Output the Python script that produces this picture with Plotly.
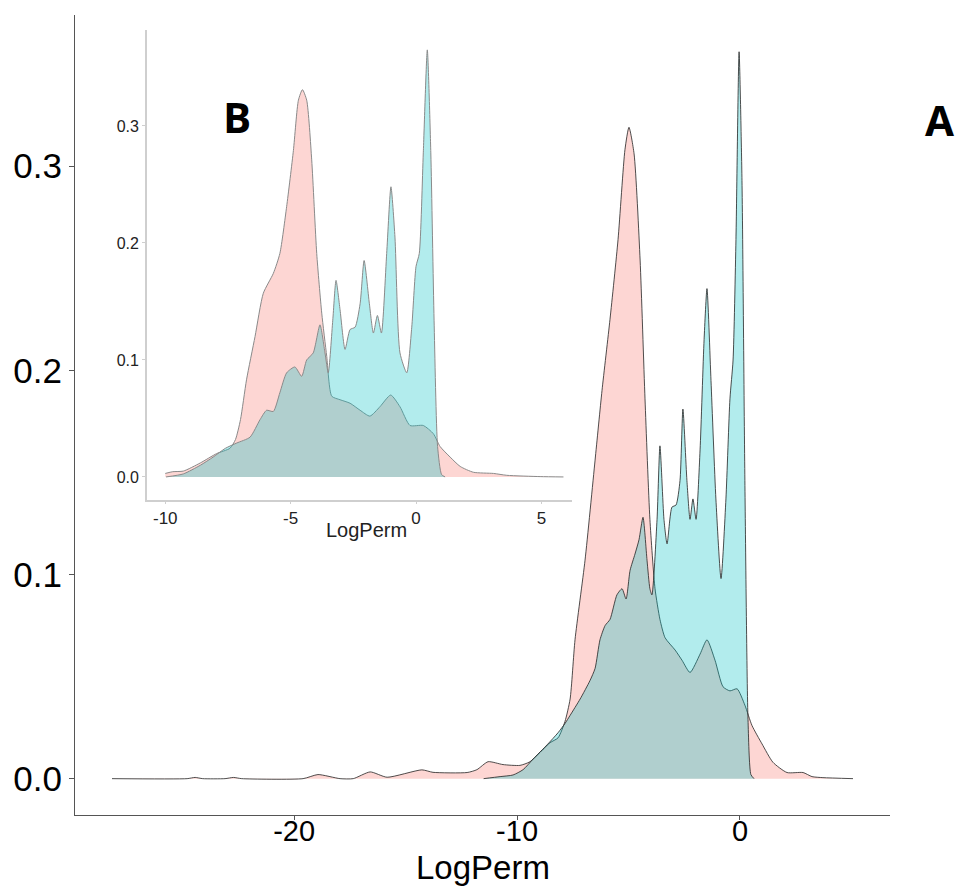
import plotly.graph_objects as go

# ---------------- Main panel (A) data ----------------
main_red_x = [-28.17, -24.8, -24.44, -24.1, -23.1, -22.72, -22.35, -19.6, -18.93, -17.94,
              -17.35, -16.59, -15.83, -14.27, -13.77, -12.24, -11.8, -11.3, -10.63, -9.87,
              -9.42, -8.52, -8.16, -7.85, -7.62, -7.4, -6.95, -6.5, -6.19, -5.83,
              -5.47, -5.16, -4.98, -4.75, -4.48, -4.26, -4.04, -3.81, -3.59, -3.36,
              -2.91, -2.6, -2.24, -1.79, -1.48, -1.12, -0.76, -0.45, -0.13, 0.22,
              0.54, 0.99, 1.48, 2.11, 2.83, 3.23, 3.72, 5.07]
main_red_y = [0, 0, 0.0006, 0, 0, 0.0006, 0, 0, 0.002, 0,
              0, 0.0033, 0.0007, 0.0043, 0.0031, 0.003, 0.0044, 0.0083, 0.0069, 0.0065,
              0.0083, 0.0176, 0.020, 0.028, 0.039, 0.068, 0.107, 0.156, 0.19, 0.225,
              0.264, 0.308, 0.319, 0.306, 0.254, 0.186, 0.127, 0.093, 0.078, 0.069,
              0.063, 0.058, 0.052, 0.061, 0.068, 0.058, 0.045, 0.043, 0.044, 0.036,
              0.026, 0.017, 0.008, 0.003, 0.003, 0.001, 0.0005, 0]

main_teal_x = [-11.5, -10.76, -10.18, -9.73, -9.28, -8.65, -8.16, -7.85, -7.62, -7.17,
               -6.73, -6.5, -6.28, -6.05, -5.83, -5.52, -5.29, -5.11, -4.93, -4.71,
               -4.53, -4.35, -4.17, -4.04, -3.95, -3.72, -3.59, -3.41, -3.27, -3.05,
               -2.87, -2.69, -2.56, -2.38, -2.24, -2.11, -1.97, -1.79, -1.61, -1.48,
               -1.3, -1.08, -0.85, -0.63, -0.45, -0.31, -0.18, -0.04, 0.09, 0.22,
               0.36, 0.49, 0.63]
main_teal_y = [0, 0.001, 0.0018, 0.0044, 0.0096, 0.0166, 0.0225, 0.027, 0.031, 0.039,
               0.048, 0.054, 0.068, 0.075, 0.078, 0.09, 0.093, 0.088, 0.102, 0.11,
               0.117, 0.128, 0.107, 0.093, 0.09, 0.127, 0.163, 0.127, 0.115, 0.133,
               0.134, 0.146, 0.181, 0.146, 0.127, 0.137, 0.127, 0.161, 0.215, 0.24,
               0.195, 0.137, 0.098, 0.137, 0.186, 0.205, 0.264, 0.356, 0.293, 0.146,
               0.029, 0.002, 0]

# ---------------- Inset panel (B) data ----------------
inset_red_x = [-10.0, -9.7, -9.28, -8.6, -7.95, -7.42, -7.2, -7.0, -6.76, -6.42,
               -6.09, -5.69, -5.43, -5.16, -4.89, -4.69, -4.53, -4.36, -4.16, -3.96,
               -3.76, -3.56, -3.36, -3.03, -2.63, -2.23, -1.84, -1.44, -1.01, -0.64,
               -0.24, 0.29, 0.69, 0.96, 1.36, 1.76, 2.29, 3.09, 3.62, 4.95, 5.88]
inset_red_y = [0.003, 0.0045, 0.005, 0.012, 0.020, 0.0245, 0.032, 0.049, 0.083, 0.12,
               0.157, 0.174, 0.191, 0.231, 0.279, 0.322, 0.331, 0.322, 0.271, 0.191,
               0.14, 0.103, 0.069, 0.066, 0.063, 0.057, 0.052, 0.060, 0.070, 0.060,
               0.044, 0.044, 0.037, 0.026, 0.017, 0.009, 0.004, 0.003, 0.0014, 0.0003, 0]

inset_teal_x = [-9.97, -9.28, -8.6, -8.09, -7.6, -7.15, -6.62, -6.22, -5.96, -5.69,
                -5.43, -5.16, -4.83, -4.56, -4.36, -4.1, -3.83, -3.63, -3.5, -3.32,
                -3.19, -3.03, -2.83, -2.63, -2.43, -2.23, -2.07, -1.86, -1.70, -1.54,
                -1.38, -1.17, -1.0, -0.84, -0.64, -0.37, -0.17, 0.0, 0.13, 0.29,
                0.45, 0.59, 0.72, 0.86, 1.02, 1.16]
inset_teal_y = [0, 0.0026, 0.010, 0.017, 0.0245, 0.029, 0.034, 0.049, 0.057, 0.056,
                0.072, 0.089, 0.094, 0.086, 0.1, 0.106, 0.13, 0.106, 0.089, 0.134,
                0.168, 0.143, 0.109, 0.126, 0.128, 0.148, 0.185, 0.148, 0.123, 0.138,
                0.123, 0.191, 0.248, 0.205, 0.106, 0.089, 0.128, 0.18, 0.191, 0.277,
                0.365, 0.277, 0.134, 0.026, 0.002, 0]

main_xticks = [-20, -10, 0]
main_xticklabels = ["-20", "-10", "0"]
yticks = [0, 0.1, 0.2, 0.3]
yticklabels = ["0.0", "0.1", "0.2", "0.3"]
inset_xticks = [-10, -5, 0, 5]
inset_xticklabels = ["-10", "-5", "0", "5"]

RED_FILL = "rgba(248,118,109,0.3)"
TEAL_FILL = "rgba(0,191,196,0.3)"
FONT = "Liberation Sans, Arial, sans-serif"
SMOOTH = 0.6

fig = go.Figure()
fig.add_trace(go.Scatter(x=main_red_x, y=main_red_y, fill="tozeroy", fillcolor=RED_FILL,
                         mode="lines", line=dict(color="#222222", width=0.8, shape="spline", smoothing=SMOOTH),
                         xaxis="x", yaxis="y", showlegend=False))
fig.add_trace(go.Scatter(x=main_teal_x, y=main_teal_y, fill="tozeroy", fillcolor=TEAL_FILL,
                         mode="lines", line=dict(color="#222222", width=0.8, shape="spline", smoothing=SMOOTH),
                         xaxis="x", yaxis="y", showlegend=False))
fig.add_trace(go.Scatter(x=inset_red_x, y=inset_red_y, fill="tozeroy", fillcolor=RED_FILL,
                         mode="lines", line=dict(color="#8a8a8a", width=1, shape="spline", smoothing=SMOOTH),
                         xaxis="x2", yaxis="y2", showlegend=False))
fig.add_trace(go.Scatter(x=inset_teal_x, y=inset_teal_y, fill="tozeroy", fillcolor=TEAL_FILL,
                         mode="lines", line=dict(color="#8a8a8a", width=1, shape="spline", smoothing=SMOOTH),
                         xaxis="x2", yaxis="y2", showlegend=False))

fig.update_layout(
    width=955, height=887,
    margin=dict(l=75, r=65, t=15, b=72, autoexpand=False),
    paper_bgcolor="white", plot_bgcolor="rgba(0,0,0,0)",
    font=dict(family=FONT, color="black"),
    xaxis=dict(domain=[0, 1], range=[-29.83, 6.73], showgrid=False, zeroline=False,
               showline=True, linecolor="#555555", linewidth=1.2, automargin=False,
               ticks="outside", ticklen=4, tickcolor="#555555",
               tickvals=main_xticks, ticktext=main_xticklabels,
               tickfont=dict(size=29, family=FONT, color="black"),
               ticklabelstandoff=-14,
               anchor="y"),
    yaxis=dict(domain=[0, 1], range=[-0.0178, 0.374], showgrid=False, zeroline=False,
               showline=True, linecolor="#555555", linewidth=1.2, automargin=False,
               ticks="outside", ticklen=5, tickcolor="#555555",
               tickvals=yticks, ticktext=yticklabels,
               tickfont=dict(size=35, family=FONT, color="black"),
               anchor="x"),
    xaxis2=dict(domain=[0.0883, 0.6098], range=[-10.73, 6.22], showgrid=False, zeroline=False,
                showline=True, linecolor="#cfcfcf", linewidth=1.6, automargin=False,
                ticks="outside", ticklen=2, tickcolor="#cfcfcf",
                tickvals=inset_xticks, ticktext=inset_xticklabels,
                tickfont=dict(size=17, family=FONT, color="#222222"),
                anchor="y2"),
    yaxis2=dict(domain=[0.39375, 0.98125], range=[-0.0197, 0.382], showgrid=False, zeroline=False,
                showline=True, linecolor="#cfcfcf", linewidth=1.6, automargin=False,
                ticks="outside", ticklen=3, tickcolor="#cfcfcf",
                tickvals=yticks, ticktext=yticklabels,
                tickfont=dict(size=16, family=FONT, color="#222222"),
                anchor="x2"),
    annotations=[
        dict(text="LogPerm", x=0.5, y=(815 - 867) / 800, xref="paper", yref="paper",
             showarrow=False, font=dict(size=33, family=FONT, color="black"),
             xanchor="center", yanchor="middle"),
        dict(text="LogPerm", x=(366 - 75) / 815, y=(815 - 530) / 800, xref="paper", yref="paper",
             showarrow=False, font=dict(size=20, family=FONT, color="#222222"),
             xanchor="center", yanchor="middle"),
        dict(text="<b>B</b>", x=0.1988, y=0.8725, xref="paper", yref="paper",
             showarrow=False, font=dict(size=42, family="Open Sans, sans-serif", color="black"),
             xanchor="center", yanchor="middle"),
        dict(text="<b>A</b>", x=1.0613, y=0.87, xref="paper", yref="paper",
             showarrow=False, font=dict(size=42, family="Open Sans, sans-serif", color="black"),
             xanchor="center", yanchor="middle"),
    ],
)

fig.write_html("out.html")
